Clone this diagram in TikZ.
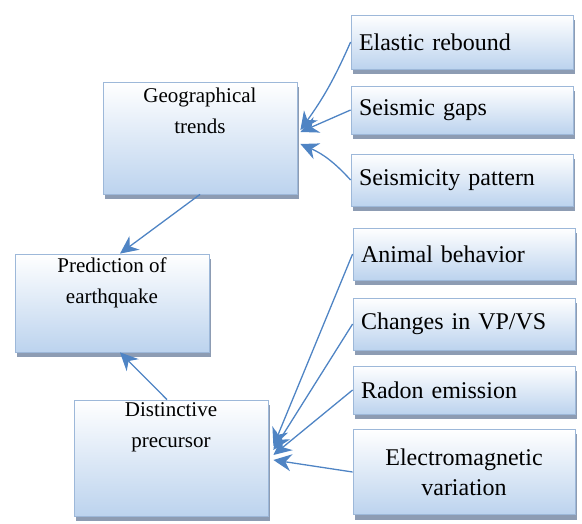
\documentclass[tikz,border=0pt]{standalone}
\usepackage{fontspec}
\setmainfont{Liberation Serif}
\usetikzlibrary{positioning,backgrounds,arrows.meta}
\definecolor{edgeblue}{HTML}{9DB8D9}
\definecolor{fillblue}{HTML}{BCD3EE}
\definecolor{arrowblue}{HTML}{4F84C4}
\definecolor{shadowgrey}{HTML}{8D9CB3}

\begin{document}
\begin{tikzpicture}[x=1pt,y=1pt,
    box/.style={draw=edgeblue,line width=0.8pt,top color=white,bottom color=fillblue},
    sidebox/.style={box,minimum width=222,minimum height=52,text width=206,inner xsep=8pt,
      align=left,font=\fontsize{24}{30}\selectfont},
    mainbox/.style={box,minimum width=194},
    toptext/.style={align=center,anchor=north,inner sep=2pt,font=\fontsize{21}{31}\selectfont},
    boxshadow/.style={fill=shadowgrey,draw=none},
    link/.style={-{Stealth[length=18pt,width=17pt]},arrowblue,line width=1.3pt}]
        \useasboundingbox (0,0) rectangle (582,523);
        \node[mainbox,minimum height=112] (geo) at (200,385) {};
        \node[toptext] (geotxt) at ([yshift=-4]geo.north) {Geographical\\trends};
        \node[mainbox,minimum height=98] (pred) at (112,220) {};
        \node[toptext] (predtxt) at ([yshift=-2]pred.north) {Prediction of\\earthquake};
        \node[mainbox,minimum height=116] (dist) at (171,65) {};
        \node[toptext] (disttxt) at ([yshift=-1]dist.north) {Distinctive\\precursor};
        \node[sidebox,minimum height=54] (elastic) at (462,481) {Elastic rebound};
        \node[sidebox,minimum height=48] (gaps) at (462,413) {Seismic gaps};
        \node[sidebox] (pattern) at (462,343) {Seismicity pattern};
        \node[sidebox] (animal) at (464,269) {Animal behavior};
        \node[sidebox] (vpvs) at (464,199) {Changes in VP/VS};
        \node[sidebox,minimum height=48] (radon) at (464,133) {Radon emission};
        \node[sidebox,minimum height=85,align=center] (emvar) at (464,51) {Electromagnetic\\variation};
        \begin{scope}[on background layer]
          \foreach \bx in {geo,pred,dist,elastic,gaps,pattern,animal,vpvs,radon,emvar}
            \fill[boxshadow] ([xshift=2,yshift=-5]\bx.south west) rectangle ([xshift=2,yshift=-5]\bx.north east);
        \end{scope}
        \draw[link] (elastic.west) to[bend left=6] ([xshift=3,yshift=8]geo.east);
        \draw[link] (gaps.west) -- ([xshift=3,yshift=6]geo.east);
        \draw[link] (pattern.west) to[bend right=12] ([xshift=3,yshift=-6]geo.east);
        \draw[link] (animal.west) -- ([xshift=5,yshift=12]dist.east);
        \draw[link] (vpvs.west) -- ([xshift=5,yshift=8]dist.east);
        \draw[link] (radon.west) -- ([xshift=5,yshift=3]dist.east);
        \draw[link] (emvar.west) -- ([xshift=5,yshift=-2]dist.east);
        \draw[link] (geo.south) -- ([xshift=8]pred.north);
        \draw[link] ([xshift=-4]dist.north) -- ([xshift=8]pred.south);
\end{tikzpicture}
\end{document}
